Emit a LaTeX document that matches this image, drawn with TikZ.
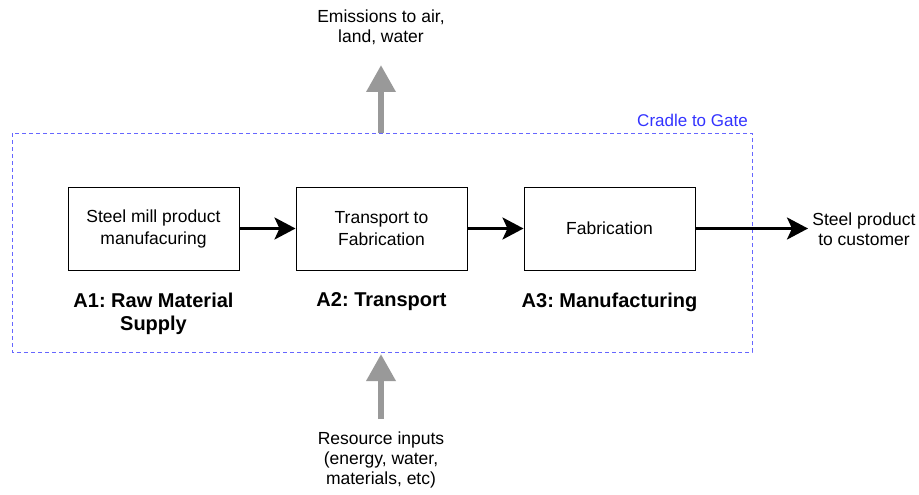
\documentclass[tikz,border=0pt]{standalone}
\usepackage{fontspec}
\setmainfont{Liberation Sans}
\frenchspacing
\usetikzlibrary{arrows.meta}
\definecolor{dashblue}{HTML}{6666FF}
\definecolor{cradle}{HTML}{3333FF}
\definecolor{flowgray}{HTML}{999999}
\begin{document}
\begin{tikzpicture}[x=1pt,y=-1pt,
  procbox/.style={draw=black, line width=1pt, minimum width=171pt, minimum height=83pt, align=center, font=\fontsize{17.5}{22}\selectfont, inner sep=0pt},
  stagelabel/.style={align=center, font=\bfseries\fontsize{20}{23}\selectfont},
  plain/.style={align=center, font=\fontsize{17.5}{20}\selectfont},
  flow/.style={line width=3pt, -{Stealth[length=21pt,width=22pt,inset=5pt]}},
  grayflow/.style={draw=flowgray, line width=6.5pt, -{Triangle[length=27pt,width=28pt]}}]
\useasboundingbox (0,0) rectangle (919,495);
\draw[dashblue, line width=0.8pt, dash pattern=on 4pt off 3pt] (12,133) rectangle (752,352);
\node[font=\fontsize{17}{20}\selectfont, text=cradle, anchor=east, inner sep=0pt] (cg) at (748,120) {Cradle to Gate};

\node[procbox] (b1) at (153.5,228.5) {Steel mill product\\manufacuring};
\node[procbox] (b2) at (381.5,228.5) {Transport to\\Fabrication};
\node[procbox] (b3) at (609.5,228.5) {Fabrication};

\node[stagelabel] (l1) at (153.5,313.5) {A1: Raw Material\\Supply};
\node[stagelabel] (l2) at (381.5,302) {A2: Transport};
\node[stagelabel] (l3) at (609.5,302) {A3: Manufacturing};

\node[plain] (out) at (864,229) {Steel product\\to customer};
\node[plain] (emis) at (381,27) {Emissions to air,\\land, water};
\node[plain] (res) at (381,460) {Resource inputs\\(energy, water,\\materials, etc)};

\coordinate (outend) at (808,228.5);
\coordinate (topstart) at (381,133);
\coordinate (toptip) at (381,65);
\coordinate (botstart) at (381,419);
\coordinate (bottip) at (381,354);

\draw[flow] (b1.east) -- (b2.west);
\draw[flow] (b2.east) -- (b3.west);
\draw[flow] (b3.east) -- (outend);
\draw[grayflow] (topstart) -- (toptip);
\draw[grayflow] (botstart) -- (bottip);
\end{tikzpicture}
\end{document}
